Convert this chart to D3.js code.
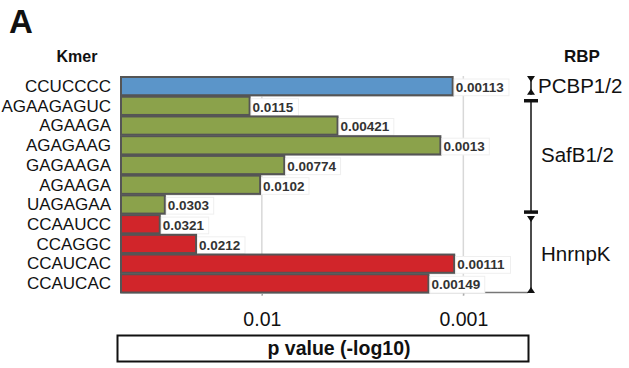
<html>
<body style="margin:0;background:#fff">
<svg id="plot"></svg>
<script src="https://d3js.org/d3.v7.min.js"></script>
<script>
// data
var kmers = ["CCUCCCC","AGAAGAGUC","AGAAGA","AGAGAAG","GAGAAGA","AGAAGA","UAGAGAA","CCAAUCC","CCAGGC","CCAUCAC","CCAUCAC"];
var pvals = [0.00113,0.0115,0.00421,0.0013,0.00774,0.0102,0.0303,0.0321,0.0212,0.00111,0.00149];
var rbpOfRow = [0,1,1,1,1,1,1,2,2,2,2];
var rbps = ["PCBP1/2","SafB1/2","HnrnpK"];
var rbpColors = ["#5b95c9","#8ba24b","#d1252a"];
var tickVals = [0.01,0.001];
var tickLabels = ["0.01","0.001"];

var font = "'Liberation Sans', Arial, Helvetica, sans-serif";
var W = 629, H = 368;
var plotLeft = 121, plotRight = 524, plotTop = 76, plotBottom = 293;

var svg = d3.select("#plot")
    .attr("width",W)
    .attr("height",H)
    .style("font-family",font)

var xScale = d3.scaleLog()
    .domain([0.05,0.0005])
    .range([plotLeft,plotRight]);

var yScale = d3.scaleBand()
    .domain(d3.range(kmers.length))
    .range([plotTop,plotBottom]);

var bw = yScale.bandwidth();

// grid lines
svg.selectAll(".grid")
    .data(tickVals)
    .enter()
    .append("line")
    .attr("x1",function(d){return xScale(d);})
    .attr("x2",function(d){return xScale(d);})
    .attr("y1",plotTop)
    .attr("y2",plotBottom+3)
    .attr("stroke","#d8d8d8")
    .attr("stroke-width",1.5)

// bottom axis, labels pushed down
var xAxis = d3.axisBottom(xScale)
    .tickValues(tickVals)
    .tickFormat(function(d,i){return tickLabels[i];})
    .tickSize(3)
    .tickPadding(17);

var ax = svg.append("g")
    .attr("transform","translate(0,"+(plotBottom-0.5)+")")
    .call(xAxis)
ax.select(".domain").remove()
ax.append("line")
    .attr("x1",plotLeft).attr("x2",plotRight+4)
    .attr("stroke","#777").attr("stroke-width",1.5)
ax.selectAll(".tick line").attr("stroke","#999")
ax.selectAll(".tick text")
    .attr("fill","#111")
    .style("font-size","19.5px")
    .style("font-family",font)

svg.append("line")
    .attr("x1",plotLeft).attr("x2",plotLeft)
    .attr("y1",plotTop).attr("y2",plotBottom)
    .attr("stroke","#777").attr("stroke-width",1.5)

// bars
var rows = svg.selectAll(".row")
    .data(pvals)
    .enter()
    .append("g")
    .classed("row",true)

rows.append("rect")
    .attr("x",plotLeft+1.5)
    .attr("y",function(d,i){return yScale(i)+2;})
    .attr("width",function(d){return xScale(d)-plotLeft;})
    .attr("height",bw-1)
    .attr("fill","#cfcfcf")

rows.append("rect")
    .attr("x",plotLeft)
    .attr("y",function(d,i){return yScale(i)+1;})
    .attr("width",function(d){return xScale(d)-plotLeft;})
    .attr("height",bw-1.5)
    .attr("fill",function(d,i){return rbpColors[rbpOfRow[i]];})
    .attr("stroke","#555")
    .attr("stroke-width",2)

// value labels
rows.append("rect")
    .attr("x",function(d){return xScale(d)+1.5;})
    .attr("y",function(d,i){return yScale(i)+3;})
    .attr("width",function(d){return String(d).length*7.4+3;})
    .attr("height",bw-3)
    .attr("fill","#fff")
    .attr("stroke","#efefef")

rows.append("text")
    .attr("x",function(d){return xScale(d)+3;})
    .attr("y",function(d,i){return yScale(i)+bw/2+6;})
    .text(function(d){return String(d);})
    .attr("fill","#333")
    .style("font-size","13.5px")
    .style("font-weight","bold")

// kmer labels
svg.selectAll(".kmer")
    .data(kmers)
    .enter()
    .append("text")
    .attr("x",111)
    .attr("y",function(d,i){return yScale(i)+bw/2+6;})
    .attr("text-anchor","end")
    .text(function(d){return d;})
    .attr("fill","#111")
    .style("font-size","17px")

// headings
svg.append("text").attr("x",9).attr("y",33).text("A")
    .style("font-size","33px").style("font-weight","bold").attr("fill","#111")
svg.append("text").attr("x",77).attr("y",62).attr("text-anchor","middle").text("Kmer")
    .style("font-size","16px").style("font-weight","bold").attr("fill","#111")
svg.append("text").attr("x",582).attr("y",62).attr("text-anchor","middle").text("RBP")
    .style("font-size","17px").style("font-weight","bold").attr("fill","#111")

// x label box
svg.append("rect")
    .attr("x",117.5).attr("y",335.5)
    .attr("width",411).attr("height",26)
    .attr("fill","#fff").attr("stroke","#111").attr("stroke-width",2)
svg.append("text").attr("x",339).attr("y",355).attr("text-anchor","middle")
    .text("p value (-log10)")
    .style("font-size","19.5px").style("font-weight","bold").attr("fill","#111")

// RBP brackets
var bx = 531;
var br = svg.append("g").attr("stroke","#111").attr("fill","#111")
var tri = function(y,down)
{
    var s = down ? 1 : -1;
    br.append("path")
        .attr("d","M"+(bx-4)+","+y+"L"+(bx+4)+","+y+"L"+bx+","+(y+6*s)+"Z")
        .attr("stroke","none")
}
var bar = function(y)
{
    br.append("line").attr("x1",bx-7).attr("x2",bx+7)
        .attr("y1",y).attr("y2",y).attr("stroke-width",3.5)
}
// PCBP1/2 row 0
var y0 = yScale(0), y1 = yScale(0)+bw;
br.append("line").attr("x1",bx).attr("x2",bx).attr("y1",y0+1).attr("y2",y1-1).attr("stroke-width",1.5)
tri(y0,true); tri(y1-1,false);
// SafB1/2 rows 1-6
bar(yScale(1)+5); bar(yScale(7)-2);
br.append("line").attr("x1",bx).attr("x2",bx).attr("y1",yScale(1)+5).attr("y2",yScale(7)-2).attr("stroke-width",1.5)
// HnrnpK rows 7-10
tri(yScale(7)+2,true); tri(plotBottom,false);
br.append("line").attr("x1",bx).attr("x2",bx).attr("y1",yScale(7)+2).attr("y2",plotBottom).attr("stroke-width",1.5)

var rbpY = [yScale(0)+bw/2, (yScale(1)+yScale(7))/2, (yScale(7)+plotBottom)/2];
svg.selectAll(".rbp")
    .data(rbps)
    .enter()
    .append("text")
    .attr("x",function(d,i){return i==0 ? 538 : 541;})
    .attr("y",function(d,i){return rbpY[i]+7;})
    .text(function(d){return d;})
    .attr("fill","#111")
    .style("font-size","20.5px")
</script>
</body>
</html>
